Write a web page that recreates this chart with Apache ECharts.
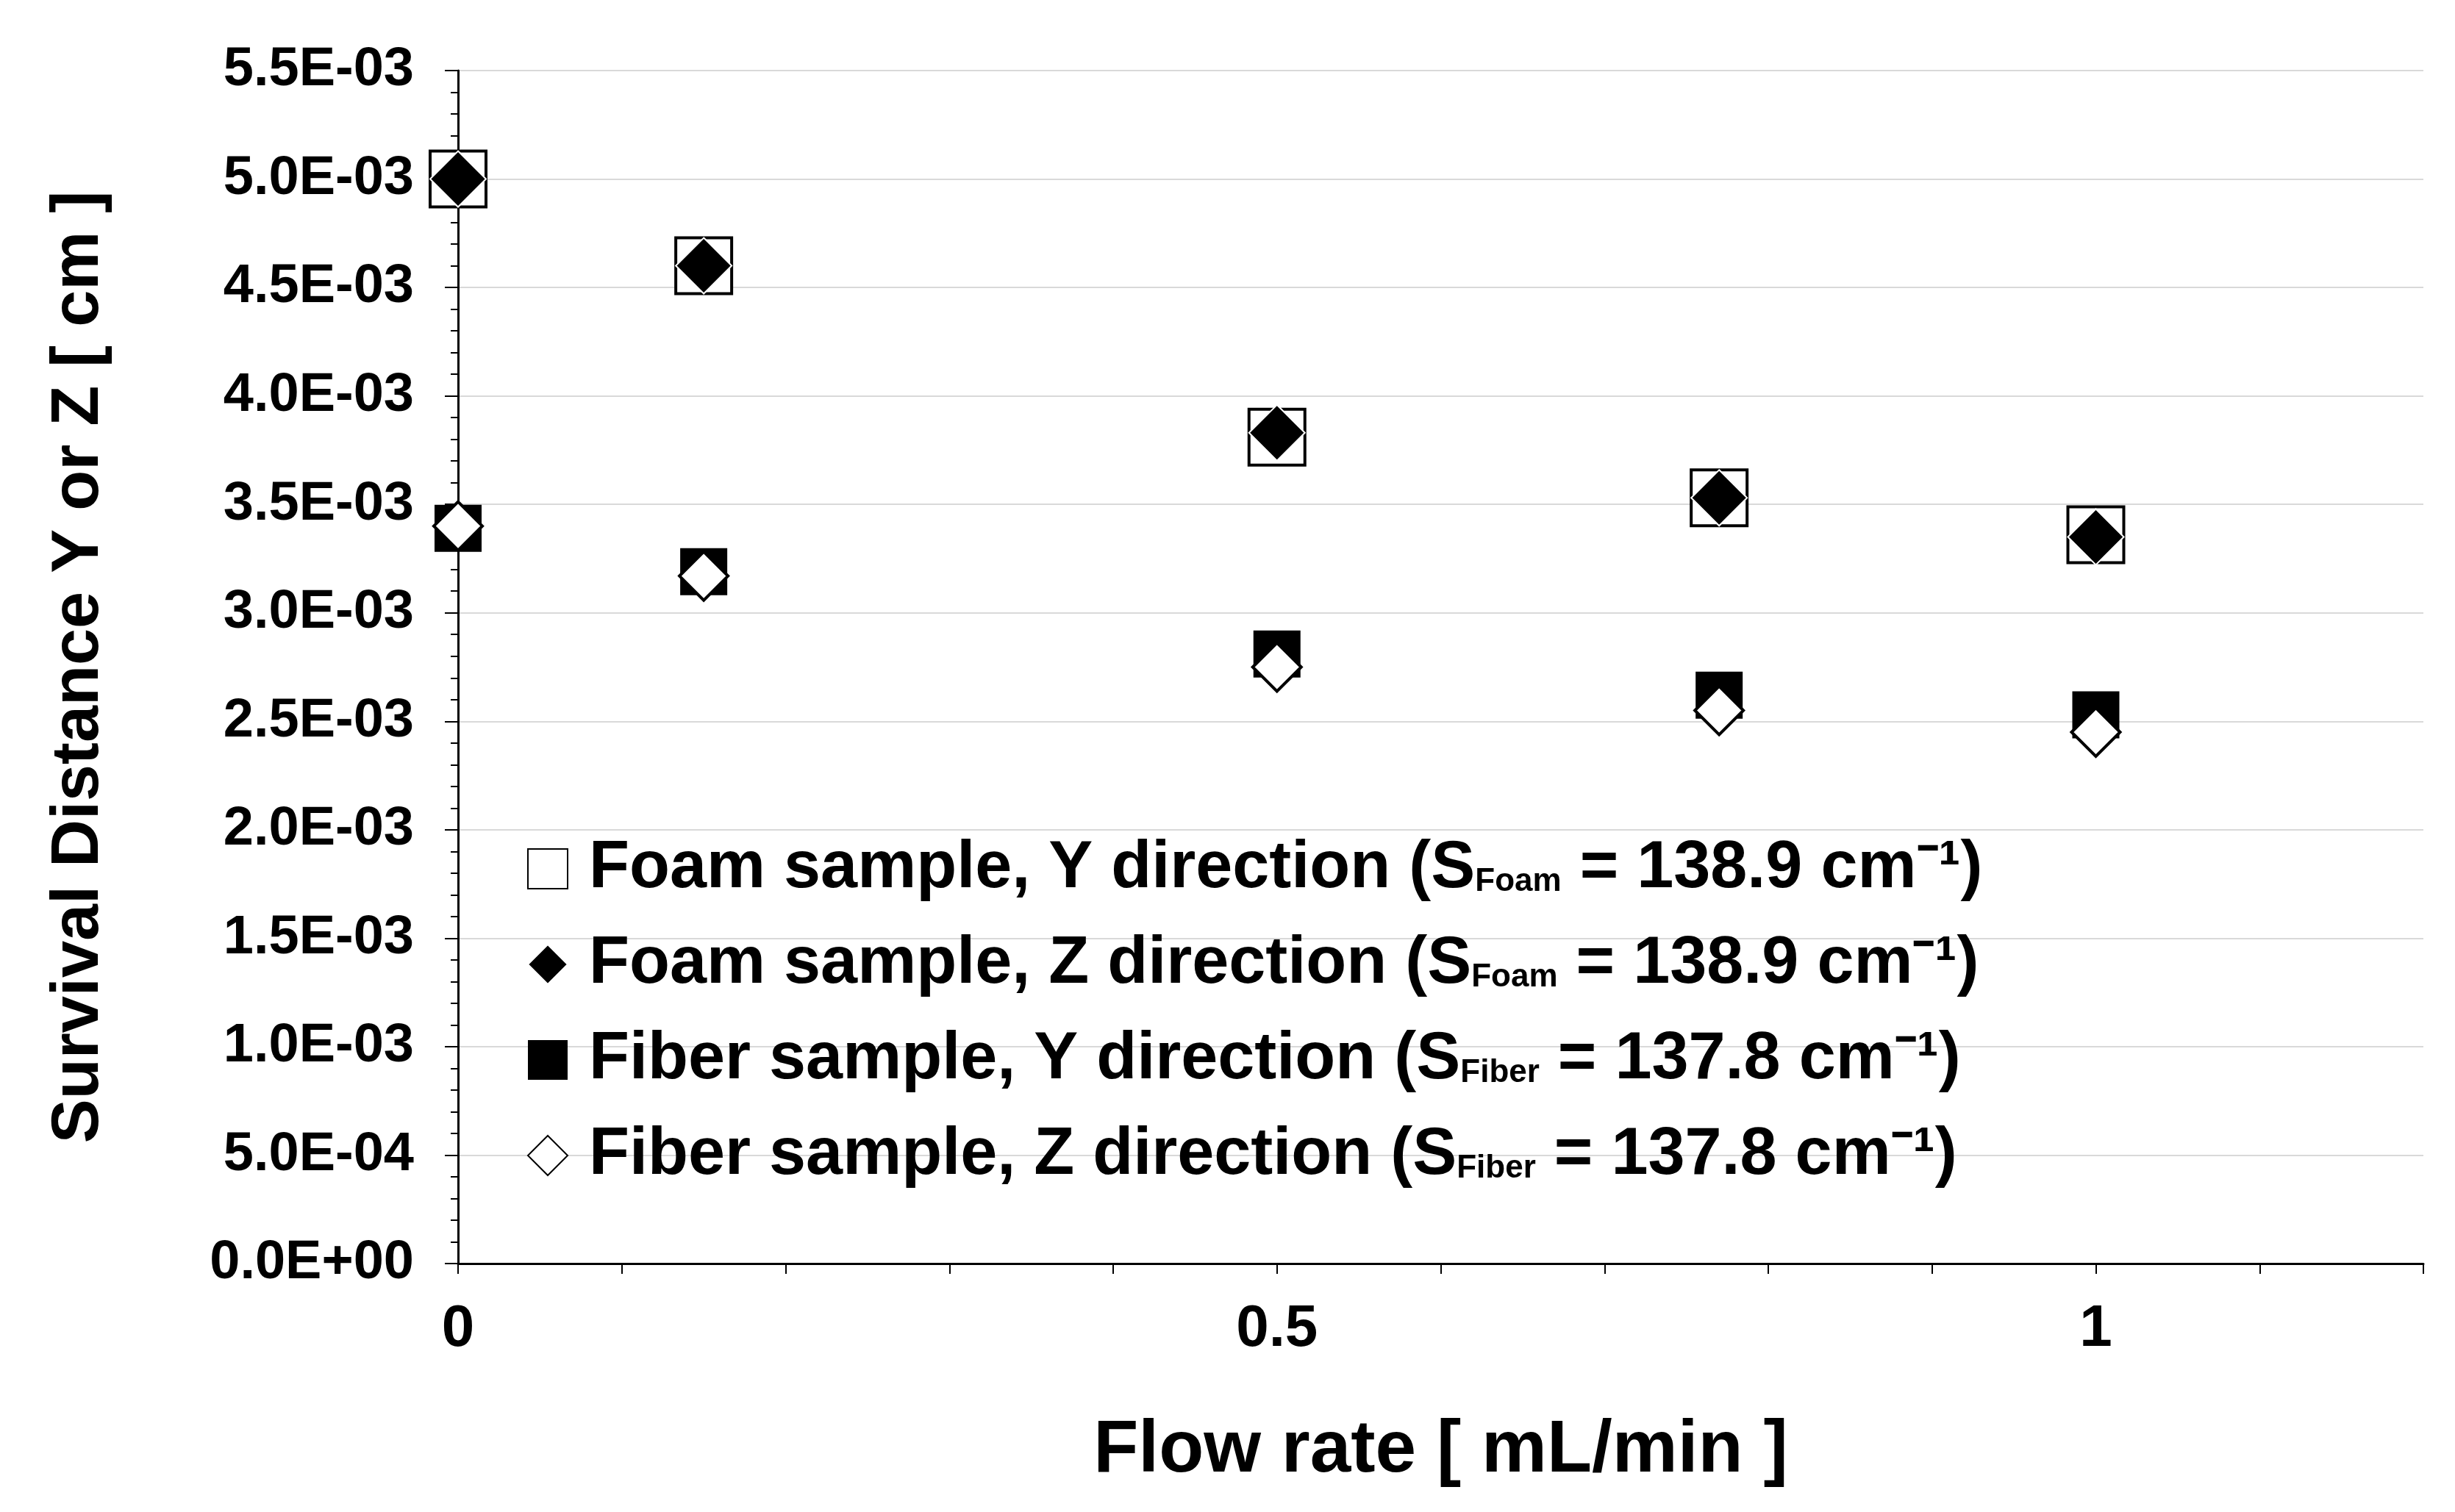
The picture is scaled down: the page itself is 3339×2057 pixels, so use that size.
<!DOCTYPE html>
<html><head><meta charset="utf-8">
<script src="https://cdn.jsdelivr.net/npm/echarts@6/dist/echarts.min.js"></script>
<style>html,body{margin:0;padding:0;background:#fff}#c{width:3339px;height:2057px}</style>
</head><body><div id="c"></div>
<script>
// flow rate [mL/min]
const flowRate = [0, 0.15, 0.5, 0.77, 1];
const foamY = [5.0e-3, 4.6e-3, 3.81e-3, 3.53e-3, 3.36e-3];
const foamZ = [5.0e-3, 4.6e-3, 3.83e-3, 3.53e-3, 3.35e-3];
const fiberY = [3.39e-3, 3.19e-3, 2.81e-3, 2.62e-3, 2.53e-3];
const fiberZ = [3.4e-3, 3.17e-3, 2.75e-3, 2.55e-3, 2.45e-3];
const xLabels = [0, 0.5, 1];

const font = 'Arial, "Liberation Sans", sans-serif';
const pairs = ys => flowRate.map((x, i) => [x, ys[i]]);

const chart = echarts.init(document.getElementById('c'), null, { renderer: 'canvas' });

const sub = { fontSize: 44, fontWeight: 'bold', fontFamily: font, color: '#000', padding: [36, 0, 0, 0] };
const main = { fontSize: 90, fontWeight: 'bold', fontFamily: font, color: '#000' };

chart.setOption({
  animation: false,
  grid: { left: 623, right: 43, top: 96, bottom: 338 },
  xAxis: {
    type: 'value', min: 0, max: 1.2, interval: 0.1,
    axisLine: { lineStyle: { color: '#000', width: 3 } },
    axisTick: { show: true, length: 14, lineStyle: { color: '#000', width: 2 } },
    splitLine: { show: false },
    axisLabel: {
      fontSize: 80, fontWeight: 'bold', fontFamily: font, color: '#000', margin: 50,
      formatter: v => {
        const hit = xLabels.find(l => Math.abs(l - v) < 1e-9);
        return hit === undefined ? '' : String(hit);
      }
    },
    name: 'Flow rate [ mL/min ]', nameLocation: 'middle', nameGap: 205,
    nameTextStyle: { fontSize: 100, fontWeight: 'bold', fontFamily: font, color: '#000' }
  },
  yAxis: {
    type: 'value', min: 0, max: 5.5e-3, interval: 0.5e-3,
    axisLine: { show: true, lineStyle: { color: '#000', width: 3 } },
    axisTick: { show: true, length: 18, lineStyle: { color: '#000', width: 2 } },
    minorTick: { show: true, splitNumber: 5, length: 10, lineStyle: { color: '#000', width: 2 } },
    splitLine: { lineStyle: { color: '#d9d9d9', width: 2 } },
    axisLabel: {
      fontSize: 74, fontWeight: 'bold', fontFamily: font, color: '#000', margin: 60,
      formatter: v => v.toExponential(1).replace(/e([+-])(\d)$/, 'E$10$2').replace('e', 'E')
    },
    name: 'Survival Distance Y or Z [ cm ]', nameLocation: 'middle', nameGap: 470,
    nameTextStyle: { fontSize: 90, fontWeight: 'bold', fontFamily: font, color: '#000' }
  },
  legend: {
    orient: 'vertical', left: 712, top: 1132, itemGap: 40, itemWidth: 54, itemHeight: 54,
    data: ['foamY', 'foamZ', 'fiberY', 'fiberZ'],
    formatter: n => ({
      foamY: '{m|Foam sample, Y direction (S}{s|Foam}{m| = 138.9 cm⁻¹)}',
      foamZ: '{m|Foam sample, Z direction (S}{s|Foam}{m| = 138.9 cm⁻¹)}',
      fiberY: '{m|Fiber sample, Y direction (S}{s|Fiber}{m| = 137.8 cm⁻¹)}',
      fiberZ: '{m|Fiber sample, Z direction (S}{s|Fiber}{m| = 137.8 cm⁻¹)}'
    })[n],
    textStyle: { rich: { m: main, s: sub }, padding: [0, 0, 0, 24] }
  },
  series: [
    { name: 'foamY', type: 'scatter', data: pairs(foamY), symbol: 'rect', symbolSize: 76,
      itemStyle: { color: '#fff', borderColor: '#000', borderWidth: 4, opacity: 1 }, z: 1 },
    { name: 'foamZ', type: 'scatter', data: pairs(foamZ), symbol: 'diamond', symbolSize: 76,
      itemStyle: { color: '#000', borderColor: '#fff', borderWidth: 2, opacity: 1 }, z: 2 },
    { name: 'fiberY', type: 'scatter', data: pairs(fiberY), symbol: 'rect', symbolSize: 64,
      itemStyle: { color: '#000', opacity: 1 }, z: 3 },
    { name: 'fiberZ', type: 'scatter', data: pairs(fiberZ), symbol: 'diamond', symbolSize: 66,
      itemStyle: { color: '#fff', borderColor: '#000', borderWidth: 4, opacity: 1 }, z: 4 }
  ]
});
</script></body></html>
